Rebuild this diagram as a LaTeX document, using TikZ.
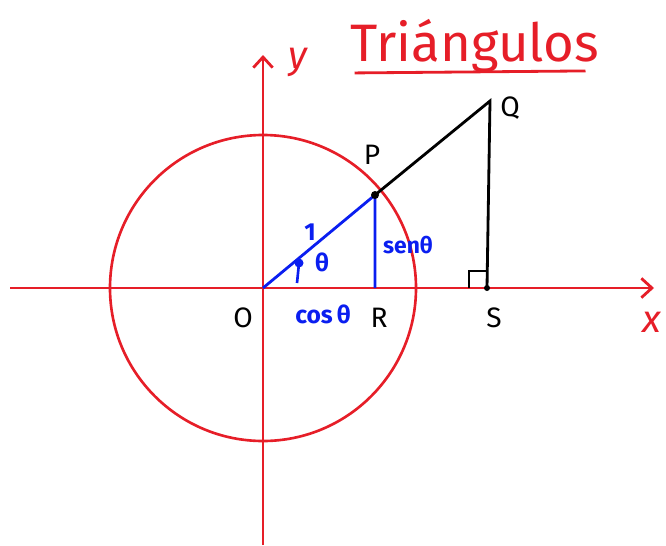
\documentclass[tikz,border=0pt]{standalone}
\usepackage{fontspec}
\setmainfont{Fira Sans}
\usetikzlibrary{arrows.meta, calc}
\definecolor{penred}{RGB}{230,30,40}
\definecolor{penblue}{RGB}{10,30,240}
\tikzset{
  axisline/.style={penred, line width=1.6pt, -{Straight Barb[length=6pt,width=11pt]}},
  blueline/.style={penblue, line width=1.6pt},
  blackline/.style={black, line width=1.6pt},
  ptlabel/.style={font=\fontsize{16}{16}\selectfont, text=black},
  bluelabel/.style={font=\fontsize{14}{14}\selectfont\bfseries, text=penblue}
}
\begin{document}
\begin{tikzpicture}[x=0.02cm, y=-0.02cm]
  \useasboundingbox (0,0) rectangle (666,545);
  % points
  \coordinate (O) at (263,288);
  \coordinate (P) at (375,195);
  \coordinate (Q) at (490,101);
  \coordinate (R) at (375,288);
  \coordinate (S) at (487,288);
  \coordinate (xstart) at (10,288);
  \coordinate (xend) at (654,288);
  \coordinate (ystart) at (263,545);
  \coordinate (yend) at (263,55);
  % axes and unit circle
  \draw[axisline] (xstart) -- (xend);
  \draw[axisline] (ystart) -- (yend);
  \draw[penred, line width=1.5pt] (O) circle (153);
  \node[font=\fontsize{22}{22}\selectfont\itshape, text=penred] (xlab) at (652,322) {x};
  \node[font=\fontsize{22}{22}\selectfont\itshape, text=penred] (ylab) at (298,62) {y};
  % title
  \node[font=\fontsize{30}{30}\selectfont, text=penred] (title) at (475,46) {Triángulos};
  \draw[penred, line width=1.6pt] ($(title.south west)+(10,-6)$) coordinate (ul1) -- ($(title.south east)+(-20,-8)$) coordinate (ul2);
  % big triangle
  \draw[blackline] (P) -- (Q) -- (S);
  \draw[black, line width=1.3pt] ($(S)+(-18,0)$) coordinate (sq1) -- ++(0,-17) coordinate (sq2) -- ++(18,0) coordinate (sq3);
  % small triangle
  \draw[blueline] (O) -- (P) -- (R);
  \fill[black] (P) circle (4);
  \fill[black] (S) circle (3);
  \fill[penblue] (299,263) coordinate (A) circle (4.5);
  \draw[penblue, line width=1.5pt] (A) -- (297,283) coordinate (B);
  % labels
  \node[ptlabel] (Olab) at (243,318) {O};
  \node[ptlabel] (Plab) at (372,155) {P};
  \node[ptlabel] (Qlab) at (510,108) {Q};
  \node[ptlabel] (Rlab) at (379,318) {R};
  \node[ptlabel] (Slab) at (494,318) {S};
  \node[bluelabel] (one) at (310,232) {1};
  \node[bluelabel] (theta) at (322,262) {θ};
  \node[bluelabel] (cos) at (323,314) {cos\,θ};
  \node[bluelabel, font=\fontsize{13}{13}\selectfont\bfseries] (sen) at (408,245) {senθ};
\end{tikzpicture}
\end{document}
